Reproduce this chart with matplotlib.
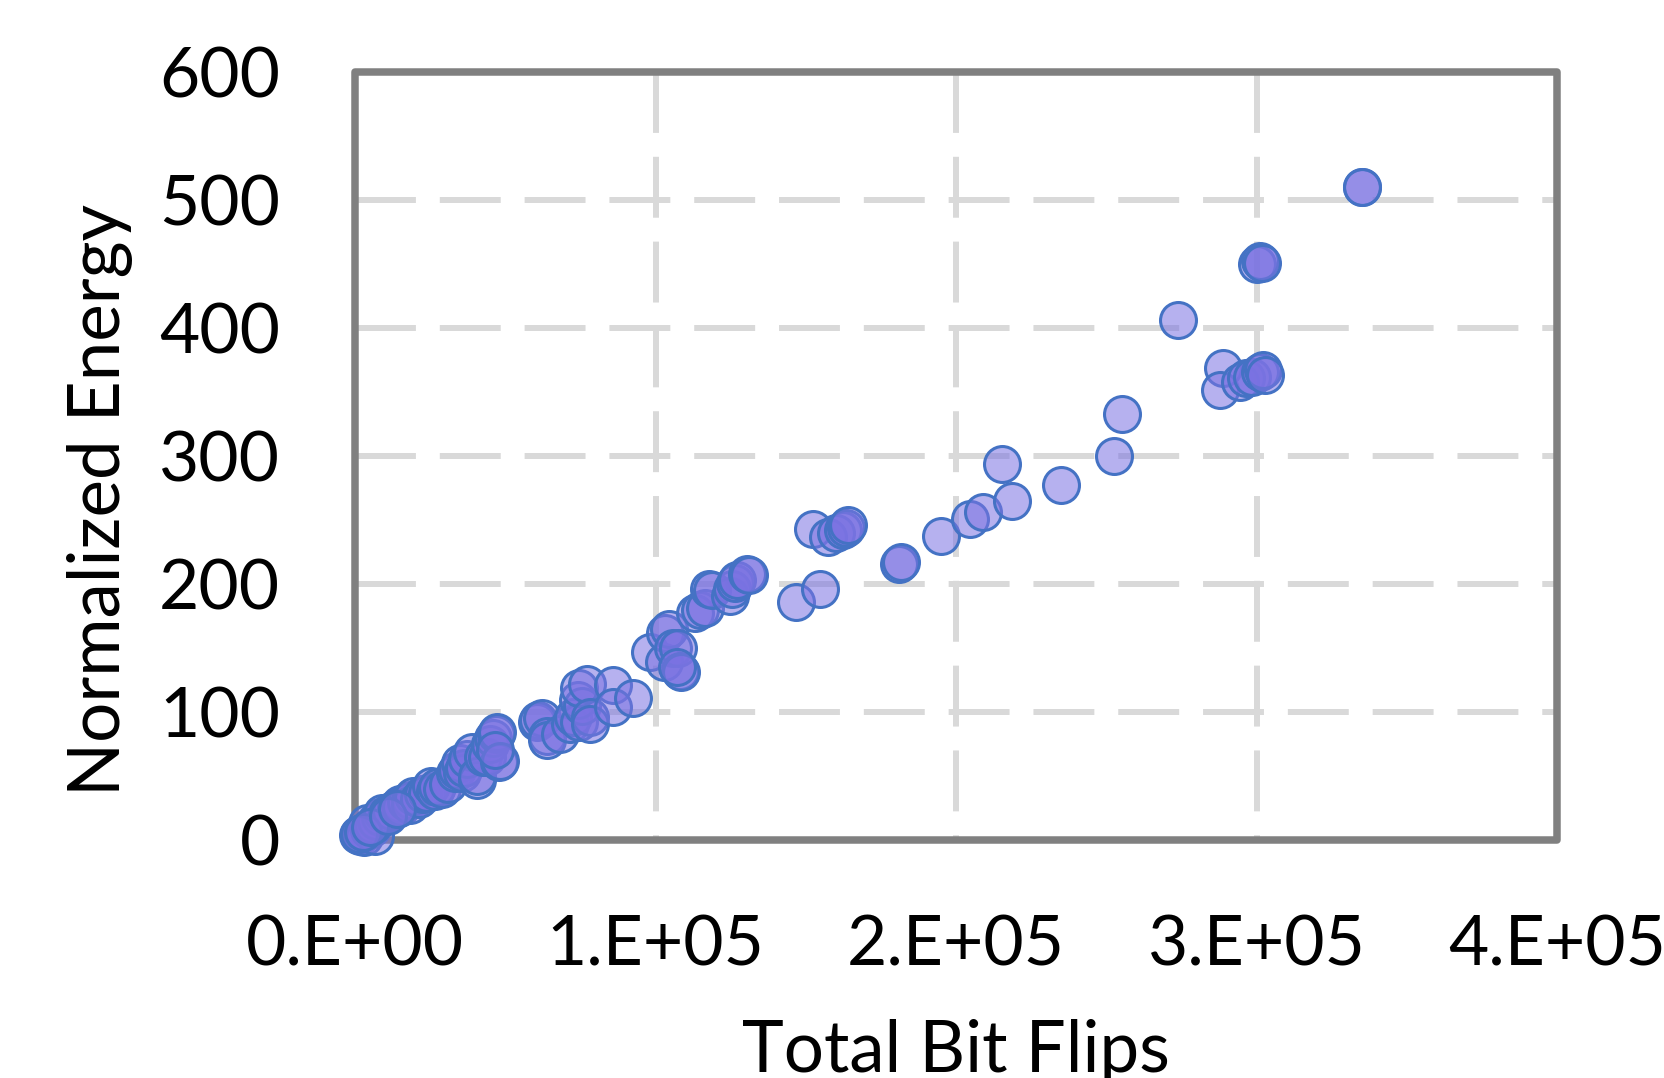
import matplotlib
matplotlib.use("Agg")
import matplotlib.pyplot as plt
from matplotlib.patches import Rectangle

# ---- data ----
bit_flips = [
    1000, 1500, 2000, 3000, 4500, 5500, 6500, 4000, 6000, 7000, 8300, 9000,
    10500, 12000, 13500, 15000, 15400, 17000, 18300, 18300, 19400, 21400,
    22500, 23800, 25300, 26500, 27200, 29000, 31000, 33400, 33800, 35000,
    35500, 36300, 37300, 39100, 40500, 40500, 42700, 43800, 45000, 45800,
    47000, 47300, 48000, 48300, 46500, 1200, 2500, 5000, 11000, 14000,
    60700, 61000, 62100, 63900, 63800, 68200, 71600, 72600, 74400, 74300,
    75500, 74400, 77100, 78200, 78200, 85700, 86000, 92500,
    98200, 102700, 103000, 104500, 105900, 107600, 108000, 108500, 107000,
    113100, 114800, 116500, 117900, 118700, 124800, 125500, 126500, 127000,
    130300, 131000,
    146900, 154700, 152300, 157500, 160000, 162500, 163500, 164200,
    181000, 181700,
    195000, 204700, 209100, 215300, 218800, 234800, 252500, 255300, 273800,
    288700, 287800, 294500, 296500, 298500, 301200, 302300, 302800,
    300000, 301200, 301800, 335200, 335200,
]
norm_energy = [
    4, 3, 5, 2, 8, 9, 3, 13, 12, 15, 18, 21,
    20, 23, 25, 28, 26, 30, 31, 27, 34, 32,
    36, 36.5, 42, 38, 41.7, 40, 44, 52, 55, 60,
    52, 56, 63, 69, 47, 50, 65, 65, 75, 80,
    83, 84, 61, 62, 70, 5, 6, 10, 19, 24,
    92, 94, 95, 81, 78, 83, 91, 96, 92, 109,
    105, 119, 122, 96, 91, 121, 104, 111,
    147, 139, 162, 165, 150, 150, 132, 131, 135,
    177, 180, 181, 196, 195, 191, 196, 201, 203,
    208, 207,
    186, 196, 243, 237, 240, 242, 244, 246,
    216, 217,
    237.5, 250.5, 256.5, 293.5, 264.5, 277, 300, 333.2, 406.3,
    368.5, 351.7, 358, 361, 362, 366, 367, 363,
    450, 452, 451, 510.4, 510.4,
]

x_ticks = [0, 100000, 200000, 300000, 400000]
x_tick_labels = ["0.E+00", "1.E+05", "2.E+05", "3.E+05", "4.E+05"]
y_ticks = [0, 100, 200, 300, 400, 500, 600]
y_tick_labels = ["0", "100", "200", "300", "400", "500", "600"]

plt.rcParams['font.family'] = ['Lato', 'DejaVu Sans']

W, H = 1665, 1078
fig = plt.figure(figsize=(W / 100, H / 100), dpi=100)
ax = fig.add_axes([355 / W, 1 - 840 / H, 1202 / W, 768 / H])
ax.set_xlim(0, 400000)
ax.set_ylim(0, 600)

grid_kw = dict(color="#D9D9D9", lw=4.3, linestyle=(0, (10.2, 4.0)), zorder=1)
for yv in y_ticks[1:-1]:
    ax.axhline(yv, xmin=0, xmax=1, **grid_kw)
for xv in x_ticks[1:-1]:
    ax.axvline(xv, ymin=1, ymax=0, **grid_kw)

ax.scatter(bit_flips, norm_energy, s=670,
           facecolors=[(122 / 255, 114 / 255, 226 / 255, 0.55)],
           edgecolors="#4472C4", linewidths=2.2, zorder=4, clip_on=False)

for sp in ax.spines.values():
    sp.set_visible(False)
frame = Rectangle((0, 0), 1, 1, transform=ax.transAxes, fill=False,
                  edgecolor="#808080", lw=5.4, joinstyle="round",
                  clip_on=False, zorder=3)
ax.add_patch(frame)

ax.set_xticks(x_ticks)
ax.set_xticklabels(x_tick_labels)
ax.set_yticks(y_ticks)
ax.set_yticklabels(y_tick_labels)
ax.tick_params(axis="x", length=0, pad=54, labelsize=50)
ax.tick_params(axis="y", length=0, pad=54, labelsize=50)

fig.text(100 / W, 1 - 500 / H, "Normalized Energy", rotation=90,
         ha="center", va="center", fontsize=51)
fig.text(956 / W, 1 - 1072 / H, "Total Bit Flips", ha="center",
         va="baseline", fontsize=51)

fig.savefig("out.png", dpi=100)
